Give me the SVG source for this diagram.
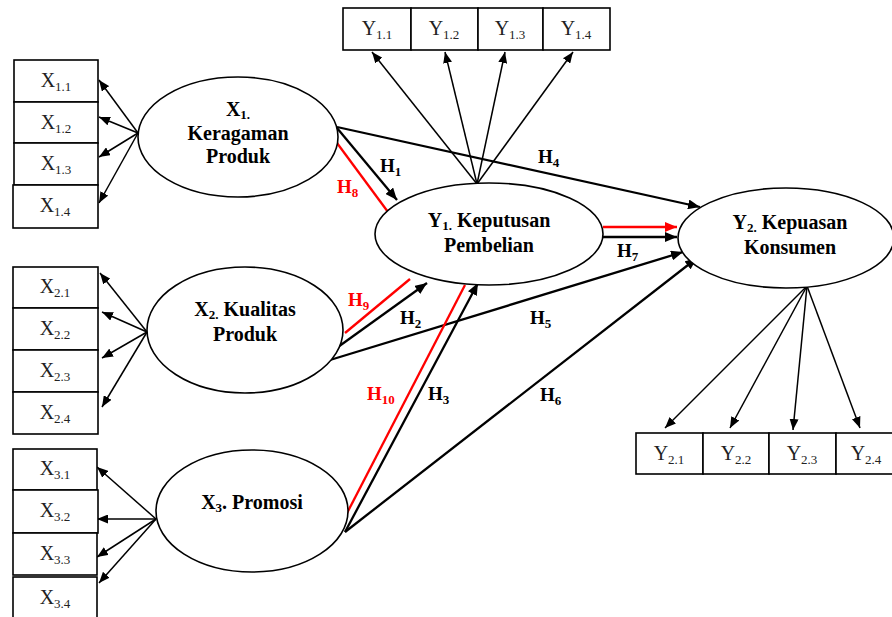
<svg xmlns="http://www.w3.org/2000/svg" width="892" height="617" viewBox="0 0 892 617">
<defs>
<style>
.box{fill:#fff;stroke:#000;stroke-width:1.6}
.ell{fill:#fff;stroke:#000;stroke-width:1.6}
.bt{font-family:"Liberation Serif","Times New Roman",serif;font-size:20px;fill:#222;text-anchor:middle}
.nt{font-family:"Liberation Serif","Times New Roman",serif;font-size:20px;font-weight:bold;fill:#000;text-anchor:middle}
.lb{font-family:"Liberation Serif","Times New Roman",serif;font-size:19px;font-weight:bold;fill:#000}
.lr{fill:#f00}
.ind{stroke:#000;stroke-width:1.5;fill:none;marker-end:url(#ah)}
.st{stroke:#000;stroke-width:2.3;fill:none}
.sa{marker-end:url(#ahb)}
.rd{stroke:#f00;stroke-width:2.3;fill:none}
</style>
<marker id="ah" markerUnits="userSpaceOnUse" markerWidth="11" markerHeight="9" refX="11" refY="4.5" orient="auto"><path d="M0,0 L11,4.5 L0,9 z" fill="#000"/></marker>
<marker id="ahb" markerUnits="userSpaceOnUse" markerWidth="12" markerHeight="10" refX="12" refY="5" orient="auto"><path d="M0,0 L12,5 L0,10 z" fill="#000"/></marker>
<marker id="ahr" markerUnits="userSpaceOnUse" markerWidth="12" markerHeight="10" refX="12" refY="5" orient="auto"><path d="M0,0 L12,5 L0,10 z" fill="#f00"/></marker>
</defs>
<rect width="892" height="617" fill="#fff"/>

<g id="connectors">
<line class="ind" x1="138" y1="133" x2="99" y2="80"/>
<line class="ind" x1="138" y1="133" x2="99" y2="117"/>
<line class="ind" x1="138" y1="133" x2="99" y2="157"/>
<line class="ind" x1="138" y1="133" x2="99" y2="203"/>
<line class="ind" x1="147" y1="332" x2="100" y2="273"/>
<line class="ind" x1="147" y1="332" x2="102" y2="312"/>
<line class="ind" x1="147" y1="332" x2="102" y2="358"/>
<line class="ind" x1="147" y1="332" x2="102" y2="407"/>
<line class="ind" x1="156" y1="519" x2="97" y2="467"/>
<line class="ind" x1="156" y1="519" x2="97" y2="519"/>
<line class="ind" x1="156" y1="519" x2="97" y2="557"/>
<line class="ind" x1="156" y1="519" x2="99" y2="583"/>
<line class="ind" x1="477" y1="184" x2="372" y2="52"/>
<line class="ind" x1="477" y1="184" x2="445" y2="52"/>
<line class="ind" x1="477" y1="184" x2="505" y2="52"/>
<line class="ind" x1="477" y1="184" x2="573" y2="52"/>
<line class="ind" x1="807" y1="286" x2="665" y2="428"/>
<line class="ind" x1="807" y1="286" x2="730" y2="428"/>
<line class="ind" x1="807" y1="286" x2="793" y2="430"/>
<line class="ind" x1="807" y1="286" x2="860" y2="428"/>

<line class="st sa" x1="337" y1="128" x2="397" y2="200"/>
<line class="rd" x1="337" y1="143" x2="388" y2="212"/>
<line class="st sa" x1="337" y1="127" x2="700" y2="207"/>
<line class="rd" x1="603" y1="227" x2="677" y2="227" marker-end="url(#ahr)"/>
<line class="st sa" x1="603" y1="237" x2="677" y2="237"/>
<line class="rd" x1="345" y1="333" x2="410" y2="279"/>
<line class="st sa" x1="338" y1="347" x2="427" y2="283"/>
<line class="st sa" x1="330" y1="360" x2="683" y2="252"/>
<line class="rd" x1="345" y1="517" x2="465" y2="285"/>
<line class="st sa" x1="345" y1="532" x2="478" y2="283"/>
<line class="st sa" x1="345" y1="532" x2="697" y2="258"/>
</g>

<g id="labels">
<text class="lb" x="380" y="172">H<tspan font-size="13" dy="4">1</tspan></text>
<text class="lb lr" x="337" y="193">H<tspan font-size="13" dy="4">8</tspan></text>
<text class="lb" x="538" y="163">H<tspan font-size="13" dy="4">4</tspan></text>
<text class="lb" x="617" y="257">H<tspan font-size="13" dy="4">7</tspan></text>
<text class="lb lr" x="348" y="306">H<tspan font-size="13" dy="4">9</tspan></text>
<text class="lb" x="400" y="324">H<tspan font-size="13" dy="4">2</tspan></text>
<text class="lb" x="530" y="324">H<tspan font-size="13" dy="4">5</tspan></text>
<text class="lb lr" x="367" y="400">H<tspan font-size="13" dy="4">10</tspan></text>
<text class="lb" x="428" y="400">H<tspan font-size="13" dy="4">3</tspan></text>
<text class="lb" x="540" y="401">H<tspan font-size="13" dy="4">6</tspan></text>
</g>

<g id="X1">
<ellipse class="ell" cx="238" cy="137" rx="100" ry="60"/>
<text class="nt" x="238" y="116">X<tspan font-size="13" dy="3">1.</tspan></text>
<text class="nt" x="238" y="140">Keragaman</text>
<text class="nt" x="238" y="163">Produk</text>
</g>
<g id="X2">
<ellipse class="ell" cx="245" cy="330" rx="98" ry="63"/>
<text class="nt" x="245" y="316">X<tspan font-size="13" dy="3">2.</tspan><tspan dy="-3"> Kualitas</tspan></text>
<text class="nt" x="245" y="341">Produk</text>
</g>
<g id="X3">
<ellipse class="ell" cx="252" cy="511" rx="96" ry="61"/>
<text class="nt" x="252" y="509">X<tspan font-size="13" dy="3">3</tspan><tspan dy="-3">. Promosi</tspan></text>
</g>
<g id="Y1">
<ellipse class="ell" cx="489" cy="234" rx="114" ry="51"/>
<text class="nt" x="489" y="227">Y<tspan font-size="13" dy="3">1.</tspan><tspan dy="-3"> Keputusan</tspan></text>
<text class="nt" x="489" y="252">Pembelian</text>
</g>
<g id="Y2">
<ellipse class="ell" cx="786" cy="238" rx="108" ry="50"/>
<text class="nt" x="790" y="229">Y<tspan font-size="13" dy="3">2.</tspan><tspan dy="-3"> Kepuasan</tspan></text>
<text class="nt" x="790" y="254">Konsumen</text>
</g>

<g id="X1.1"><rect class="box" x="14" y="60" width="84" height="42"/><text class="bt" x="56" y="87">X<tspan font-size="13" dy="4">1.1</tspan></text></g>
<g id="X1.2"><rect class="box" x="14" y="102" width="84" height="41"/><text class="bt" x="56" y="129">X<tspan font-size="13" dy="4">1.2</tspan></text></g>
<g id="X1.3"><rect class="box" x="14" y="143" width="84" height="42"/><text class="bt" x="56" y="170">X<tspan font-size="13" dy="4">1.3</tspan></text></g>
<g id="X1.4"><rect class="box" x="13" y="185" width="85" height="43"/><text class="bt" x="55" y="212">X<tspan font-size="13" dy="4">1.4</tspan></text></g>

<g id="X2.1"><rect class="box" x="13" y="267" width="85" height="41"/><text class="bt" x="55" y="293">X<tspan font-size="13" dy="4">2.1</tspan></text></g>
<g id="X2.2"><rect class="box" x="13" y="308" width="85" height="42"/><text class="bt" x="55" y="335">X<tspan font-size="13" dy="4">2.2</tspan></text></g>
<g id="X2.3"><rect class="box" x="13" y="350" width="85" height="42"/><text class="bt" x="55" y="377">X<tspan font-size="13" dy="4">2.3</tspan></text></g>
<g id="X2.4"><rect class="box" x="13" y="392" width="85" height="42"/><text class="bt" x="55" y="419">X<tspan font-size="13" dy="4">2.4</tspan></text></g>

<g id="X3.1"><rect class="box" x="13" y="449" width="84" height="41"/><text class="bt" x="55" y="475">X<tspan font-size="13" dy="4">3.1</tspan></text></g>
<g id="X3.2"><rect class="box" x="13" y="490" width="85" height="43"/><text class="bt" x="55" y="517">X<tspan font-size="13" dy="4">3.2</tspan></text></g>
<g id="X3.3"><rect class="box" x="13" y="533" width="84" height="42"/><text class="bt" x="55" y="560">X<tspan font-size="13" dy="4">3.3</tspan></text></g>
<g id="X3.4"><rect class="box" x="13" y="577" width="84" height="45"/><text class="bt" x="55" y="604">X<tspan font-size="13" dy="4">3.4</tspan></text></g>

<g id="Y1.1"><rect class="box" x="343" y="8" width="68" height="42"/><text class="bt" x="377" y="35">Y<tspan font-size="13" dy="4">1.1</tspan></text></g>
<g id="Y1.2"><rect class="box" x="411" y="8" width="67" height="42"/><text class="bt" x="444" y="35">Y<tspan font-size="13" dy="4">1.2</tspan></text></g>
<g id="Y1.3"><rect class="box" x="478" y="8" width="65" height="42"/><text class="bt" x="510" y="35">Y<tspan font-size="13" dy="4">1.3</tspan></text></g>
<g id="Y1.4"><rect class="box" x="543" y="8" width="67" height="42"/><text class="bt" x="576" y="35">Y<tspan font-size="13" dy="4">1.4</tspan></text></g>

<g id="Y2.1"><rect class="box" x="636" y="433" width="67" height="41"/><text class="bt" x="669" y="460">Y<tspan font-size="13" dy="4">2.1</tspan></text></g>
<g id="Y2.2"><rect class="box" x="703" y="433" width="66" height="41"/><text class="bt" x="736" y="460">Y<tspan font-size="13" dy="4">2.2</tspan></text></g>
<g id="Y2.3"><rect class="box" x="769" y="433" width="67" height="41"/><text class="bt" x="802" y="460">Y<tspan font-size="13" dy="4">2.3</tspan></text></g>
<g id="Y2.4"><rect class="box" x="836" y="433" width="60" height="41"/><text class="bt" x="866" y="460">Y<tspan font-size="13" dy="4">2.4</tspan></text></g>
</svg>
